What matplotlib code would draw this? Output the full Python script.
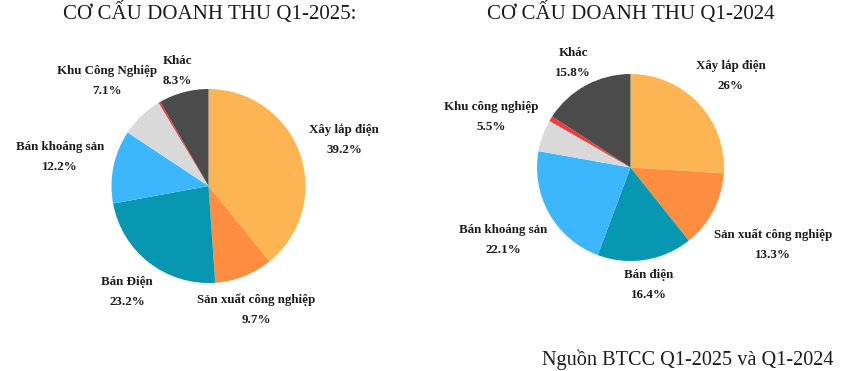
import matplotlib
matplotlib.use("Agg")
import matplotlib.pyplot as plt

# ---- data ----
categories_2025 = ["Xây lắp điện", "Sản xuất công nghiệp", "Bán Điện", "Bán khoáng sản",
                   "Khu Công Nghiệp", "", "Khác"]
values_2025 = [39.2, 9.7, 23.2, 12.2, 7.1, 0.3, 8.3]
pct_2025 = ["39.2%", "9.7%", "23.2%", "12.2%", "7.1%", "", "8.3%"]

categories_2024 = ["Xây lắp điện", "Sản xuất công nghiệp", "Bán điện", "Bán khoáng sản",
                   "Khu công nghiệp", "", "Khác"]
values_2024 = [26.0, 13.3, 16.4, 22.1, 5.5, 0.9, 15.8]
pct_2024 = ["26%", "13.3%", "16.4%", "22.1%", "5.5%", "", "15.8%"]

colors = ["#FDB553", "#FF8D3F", "#0897B1", "#3CB7FE", "#D9D9D9", "#F23A3A", "#4B4B4B"]

title_2025 = "CƠ CẤU DOANH THU Q1-2025:"
title_2024 = "CƠ CẤU DOANH THU Q1-2024"
source_text = "Nguồn BTCC Q1-2025 và Q1-2024"

# ---- layout ----
W, H = 844, 371
fig = plt.figure(figsize=(W / 100, H / 100), dpi=100)
fig.patch.set_facecolor("white")

def px_axes(cx, cy, r):
    return fig.add_axes([(cx - r) / W, (H - cy - r) / H, 2 * r / W, 2 * r / H])

serif = ["Liberation Serif", "DejaVu Serif"]
tcol = "#1c1c1c"

# label pixel positions (center of name line)
pos_2025 = [(344, 130), (256, 300), (127, 282), (60, 147), (107, 71), None, (177, 61)]
pos_2024 = [(731, 66), (773, 235), (649, 275), (503, 230), (491, 107), None, (573, 53)]

def draw(cx, cy, r, vals, cats, pcts, pos):
    ax = px_axes(cx, cy, r)
    ax.pie(vals, colors=colors, startangle=90, counterclock=False,
           wedgeprops=dict(linewidth=0))
    ax.set_xlim(-1, 1)
    ax.set_ylim(-1, 1)
    ax.set_aspect("equal")
    ax.axis("off")
    for c, p, xy in zip(cats, pcts, pos):
        if xy is None:
            continue
        x, y = xy
        fig.text(x / W, 1 - y / H, c, ha="center", va="center", fontsize=9.4,
                 fontweight="bold", family=serif, color=tcol)
        fig.text(x / W, 1 - (y + 20) / H, p, ha="center", va="center", fontsize=9.4,
                 fontweight="bold", family=serif, color=tcol)

draw(208.5, 186, 97, values_2025, categories_2025, pct_2025, pos_2025)
draw(630.5, 167.5, 93.5, values_2024, categories_2024, pct_2024, pos_2024)

fig.text(209.5 / W, 1 - 13 / H, title_2025, ha="center", va="center", fontsize=15.1,
         family=serif, color=tcol)
fig.text(630.5 / W, 1 - 12.5 / H, title_2024, ha="center", va="center", fontsize=15.1,
         family=serif, color=tcol)
fig.text(833 / W, 1 - 360 / H, source_text, ha="right", va="center", fontsize=14.6,
         family=serif, color=tcol)

fig.savefig("out.png", dpi=100, facecolor="white")
